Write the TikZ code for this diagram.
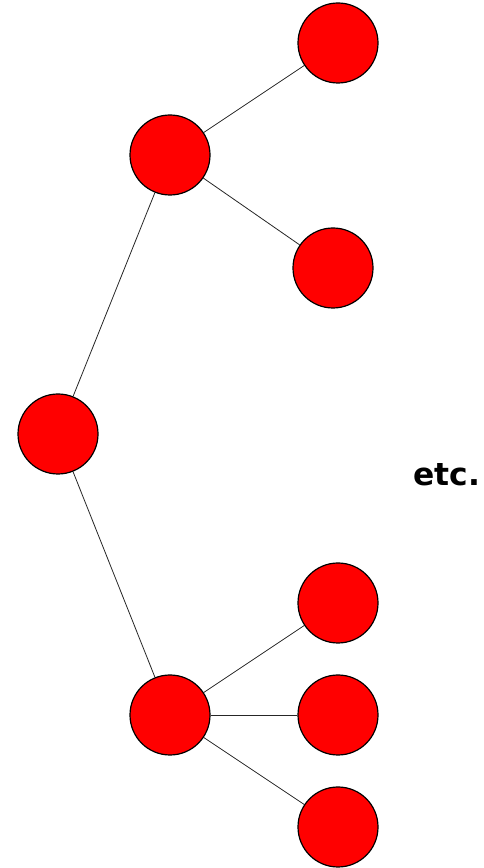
\documentclass[tikz,border=0pt]{standalone}
\usepackage{fontspec}
\setsansfont{DejaVu Sans}
\usetikzlibrary{positioning}
\tikzset{
  dot/.style={circle, draw=black, fill=red, line width=0.9pt, minimum size=60pt, inner sep=0pt},
  edge/.style={draw=black!85, line width=0.6pt},
  lbl/.style={font=\sffamily\bfseries\fontsize{23.5}{28}\selectfont, text=black},
}
\begin{document}
\begin{tikzpicture}[x=0.75pt, y=0.75pt]
  \useasboundingbox (0,0) rectangle (484,868);
  \node[dot] (rt) at (58,434) {};
  \node[dot] (up) at (170,713) {};
  \node[dot] (upa) at (338,825) {};
  \node[dot] (upb) at (333,600) {};
  \node[dot] (lo) at (170,153) {};
  \node[dot] (loa) at (338,265) {};
  \node[dot] (lob) at (338,153) {};
  \node[dot] (loc) at (338,41) {};
  \node[lbl] (etc) at (447,393) {etc.};
  \draw[edge] (rt) -- (up); \draw[edge] (up) -- (upa); \draw[edge] (up) -- (upb);
  \draw[edge] (rt) -- (lo); \draw[edge] (lo) -- (loa); \draw[edge] (lo) -- (lob); \draw[edge] (lo) -- (loc);
\end{tikzpicture}
\end{document}
